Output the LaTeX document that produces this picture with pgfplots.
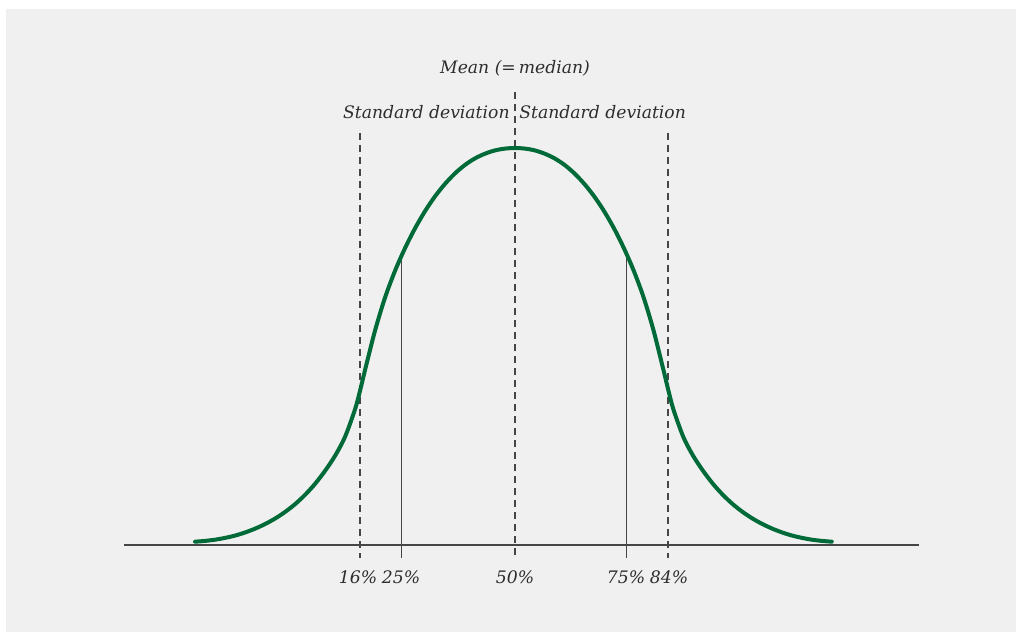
\documentclass[border=0pt]{standalone}
\usepackage{pgfplots}
\pgfplotsset{compat=1.18}
\usepackage{fontspec}
\setmainfont{DejaVu Serif}
\definecolor{curvegreen}{RGB}{0,106,56}
\definecolor{bggray}{RGB}{240,240,240}
\definecolor{linegray}{RGB}{70,70,70}
\definecolor{txtgray}{RGB}{45,45,45}
\begin{document}
\begin{tikzpicture}
\begin{axis}[
  scale only axis,
  width=511pt, height=319pt,
  xmin=-515, xmax=507, ymin=-93, ymax=545,
  axis lines=none,
  clip=false,
  ticks=none,
]
\fill[white] (axis cs:-515,-93) rectangle (axis cs:507,545);
\fill[bggray] (axis cs:-509,-87) rectangle (axis cs:501,536);
% baseline
\addplot[linegray, line width=0.8pt] coordinates {(-391,0) (404,0)};
% dashed lines (standard deviations and mean)
\addplot[linegray, line width=0.7pt, dash pattern=on 3.5pt off 2.5pt] coordinates {(-155,412) (-155,-13)};
\addplot[linegray, line width=0.7pt, dash pattern=on 3.5pt off 2.5pt] coordinates {(153,412) (153,-13)};
\addplot[linegray, line width=0.7pt, dash pattern=on 3.5pt off 2.5pt] coordinates {(0,453) (0,-13)};
% quartile lines
\addplot[linegray, line width=0.5pt] coordinates {(-114,287) (-114,-13)};
\addplot[linegray, line width=0.5pt] coordinates {(111,291) (111,-13)};
% curve
\addplot[curvegreen, line width=2pt, smooth, line cap=round] coordinates {
(-320,3.3) (-310,4.1) (-300,5.3) (-290,7.1) (-280,9.4) (-270,12.5) (-260,16.3)
(-250,20.9) (-240,26.4) (-230,33.0) (-220,40.8) (-210,50.1) (-200,61.1)
(-190,74.1) (-180,89.1) (-170,108.1) (-160,135.6) (-155,154.1) (-150,174.8)
(-140,214.3) (-130,247.3) (-120,274.1) (-110,296.8) (-100,316.6) (-90,333.8)
(-80,348.6) (-70,361.1) (-60,371.6) (-50,380.1) (-40,386.6) (-30,391.3)
(-20,394.6) (-10,396.4) (0,397)
(9.9,396.4) (19.8,394.6) (29.7,391.3) (39.6,386.6) (49.5,380.1) (59.4,371.6)
(69.3,361.1) (79.2,348.6) (89.1,333.8) (99,316.6) (108.9,296.8) (118.8,274.1)
(128.7,247.3) (138.6,214.3) (148.5,174.8) (153.5,154.1) (158.4,135.6)
(168.3,108.1) (178.2,89.1) (188.1,74.1) (198,61.1) (207.9,50.1) (217.8,40.8)
(227.7,33.0) (237.6,26.4) (247.5,20.9) (257.4,16.3) (267.3,12.5) (277.2,9.4)
(287.1,7.1) (297,5.3) (306.9,4.1) (316.8,3.3)};
% labels
\begin{scope}[every node/.style={font=\itshape\fontsize{8.6pt}{10pt}\selectfont, text=txtgray, inner sep=0pt}]
\node[anchor=center] at (axis cs:0,477) {Mean (=\,median)};
\node[anchor=east] at (axis cs:-5,433) {Standard deviation};
\node[anchor=west] at (axis cs:4,433) {Standard deviation};
\node at (axis cs:-157,-32) {16\%};
\node at (axis cs:-114,-32) {25\%};
\node at (axis cs:0,-32) {50\%};
\node at (axis cs:111,-32) {75\%};
\node at (axis cs:154,-32) {84\%};
\end{scope}
\end{axis}
\end{tikzpicture}
\end{document}
